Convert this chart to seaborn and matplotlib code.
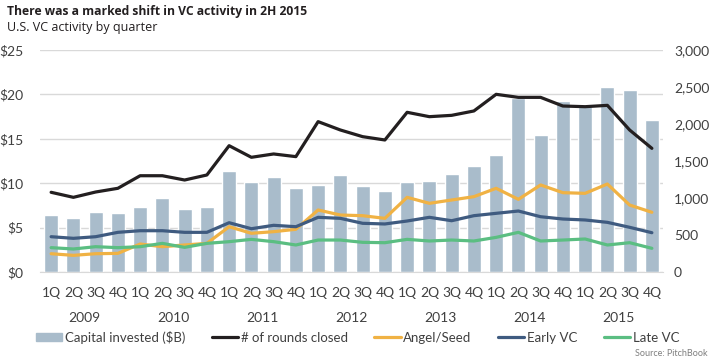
import numpy as np
import pandas as pd
import matplotlib.pyplot as plt
import seaborn as sns
from matplotlib.lines import Line2D
from matplotlib.patches import Patch
from matplotlib.ticker import FuncFormatter

# quarterly US VC activity, 2009-2015
years = ['2009', '2010', '2011', '2012', '2013', '2014', '2015']
quarters = ['1Q', '2Q', '3Q', '4Q']

capital = [6.4, 6.1, 6.8, 6.7, 7.3, 8.3, 7.1, 7.3,
           11.4, 10.1, 10.7, 9.5, 9.8, 10.9, 9.7, 9.1,
           10.1, 10.3, 11.0, 11.9, 13.2, 19.6, 15.4, 19.3,
           18.7, 20.8, 20.5, 17.1]
rounds = [1077, 1009, 1081, 1131, 1301, 1301, 1243, 1311,
          1707, 1550, 1595, 1559, 2032, 1919, 1829, 1784,
          2158, 2099, 2117, 2176, 2401, 2360, 2360, 2243,
          2234, 2252, 1919, 1671]
angel = [247, 225, 247, 252, 378, 342, 365, 387,
         612, 523, 545, 577, 838, 770, 761, 725,
         1009, 928, 973, 1018, 1131, 982, 1176, 1072,
         1063, 1189, 905, 807]
early = [477, 455, 477, 536, 558, 558, 536, 536,
         666, 585, 631, 612, 739, 725, 658, 649,
         689, 739, 693, 761, 793, 824, 747, 716,
         703, 671, 604, 531]
late = [329, 311, 342, 329, 342, 387, 333, 387,
        410, 441, 410, 365, 432, 432, 401, 396,
        441, 419, 432, 419, 468, 536, 419, 432,
        446, 365, 396, 320]

periods = [f'{y} {q}' for y in years for q in quarters]
df = pd.DataFrame({'period': periods, 'idx': np.arange(len(periods)),
                   'capital': capital, 'rounds': rounds,
                   'angel': angel, 'early': early, 'late': late})

c_bar = '#A9BCCB'
c_rounds = '#231F20'
c_angel = '#F0B244'
c_early = '#3F5B80'
c_late = '#5BBE82'

sns.set_style('white')
plt.rcParams['font.family'] = ['Lato', 'DejaVu Sans']

fig = plt.figure(figsize=(7.13, 3.62), dpi=100)
ax = fig.add_axes([40 / 713, 1 - 272 / 362, 623 / 713, 222 / 362])

sns.barplot(data=df, x='period', y='capital', color=c_bar, width=0.63,
            saturation=1, ax=ax, zorder=2)
ax.set_xlim(-0.5, 27.5)
ax.set_ylim(0, 25)
ax.set_yticks(range(0, 26, 5))
ax.yaxis.set_major_formatter(FuncFormatter(lambda v, p: f'${v:.0f}'))
ax.grid(axis='y', color='#D9D9D9', lw=1, zorder=0)
ax.set_axisbelow(True)
ax.set_xticks(range(28))
ax.set_xticklabels(quarters * 7)
ax.set_xlabel('')
ax.set_ylabel('')
for s in ['top', 'right', 'left']:
    ax.spines[s].set_visible(False)
ax.spines['bottom'].set_color('#D9D9D9')
ax.tick_params(axis='both', length=0, labelsize=10, colors='#404040')
ax.tick_params(axis='x', pad=11)
ax.tick_params(axis='y', pad=12)

ax2 = ax.twinx()
sns.lineplot(data=df, x='idx', y='rounds', color=c_rounds, lw=2.3, ax=ax2)
sns.lineplot(data=df, x='idx', y='angel', color=c_angel, lw=2.3, ax=ax2)
sns.lineplot(data=df, x='idx', y='early', color=c_early, lw=2.3, ax=ax2)
sns.lineplot(data=df, x='idx', y='late', color=c_late, lw=2.3, ax=ax2)
ax2.set_ylim(0, 3000)
ax2.set_xlim(-0.5, 27.5)
ax2.set_yticks(range(0, 3001, 500))
ax2.yaxis.set_major_formatter(FuncFormatter(lambda v, p: f'{v:,.0f}'))
ax2.set_xlabel('')
ax2.set_ylabel('')
for s in ax2.spines.values():
    s.set_visible(False)
ax2.tick_params(axis='y', length=0, labelsize=10, colors='#404040', pad=8)

# year labels under the quarter labels
for i, y in enumerate(years):
    ax.text(i * 4 + 1.5, -0.205, y, transform=ax.get_xaxis_transform(),
            ha='center', va='center', fontsize=10, color='#404040')

handles = [Patch(color=c_bar),
           Line2D([], [], color=c_rounds, lw=2.3),
           Line2D([], [], color=c_angel, lw=2.3),
           Line2D([], [], color=c_early, lw=2.3),
           Line2D([], [], color=c_late, lw=2.3)]
labels = ['Capital invested ($B)', '# of rounds closed', 'Angel/Seed', 'Early VC', 'Late VC']
leg = fig.legend(handles, labels, loc='center left', bbox_to_anchor=(36 / 713, 1 - 337 / 362),
                 ncol=5, frameon=False, fontsize=9.5, handlelength=2.0, handleheight=0.5,
                 handletextpad=0.2, columnspacing=2.0, borderaxespad=0, borderpad=0)
for t in leg.get_texts():
    t.set_color('#404040')

fig.text(7 / 713, 1 - 11 / 362, 'There was a marked shift in VC activity in 2H 2015',
         fontsize=8.7, fontweight='bold', family=['Open Sans', 'DejaVu Sans'],
         color='#231F20', va='center')
fig.text(7 / 713, 1 - 27 / 362, 'U.S. VC activity by quarter', fontsize=9,
         family=['Open Sans', 'DejaVu Sans'], color='#231F20', va='center')
fig.text(708 / 713, 1 - 354 / 362, 'Source: PitchBook', fontsize=6.5,
         color='#7F7F7F', ha='right', va='center')

fig.savefig('out.png', dpi=100)
